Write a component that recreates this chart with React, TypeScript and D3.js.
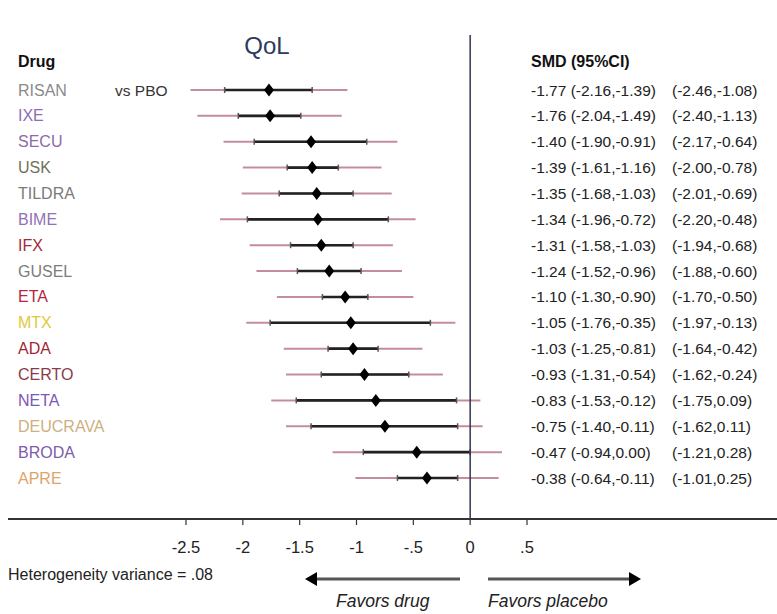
import React from "react";
import * as d3 from "d3";

const drugs = ["RISAN","IXE","SECU","USK","TILDRA","BIME","IFX","GUSEL","ETA","MTX","ADA","CERTO","NETA","DEUCRAVA","BRODA","APRE"];
const drugColors = ["#8a8a8a","#8f6db5","#8d6aaa","#6e7358","#7a7a7a","#9272b5","#a3283a","#7c7c7c","#b52540","#e2c93a","#a51f35","#8a3a4a","#7a58b3","#cdb080","#7c5caa","#e0a468"];
const smd = [-1.77,-1.76,-1.40,-1.39,-1.35,-1.34,-1.31,-1.24,-1.10,-1.05,-1.03,-0.93,-0.83,-0.75,-0.47,-0.38];
const ciLow = [-2.16,-2.04,-1.90,-1.61,-1.68,-1.96,-1.58,-1.52,-1.30,-1.76,-1.25,-1.31,-1.53,-1.40,-0.94,-0.64];
const ciHigh = [-1.39,-1.49,-0.91,-1.16,-1.03,-0.72,-1.03,-0.96,-0.90,-0.35,-0.81,-0.54,-0.12,-0.11,0.00,-0.11];
const piLow = [-2.46,-2.40,-2.17,-2.00,-2.01,-2.20,-1.94,-1.88,-1.70,-1.97,-1.64,-1.62,-1.75,-1.62,-1.21,-1.01];
const piHigh = [-1.08,-1.13,-0.64,-0.78,-0.69,-0.48,-0.68,-0.60,-0.50,-0.13,-0.42,-0.24,0.09,0.11,0.28,0.25];
const tickValues = [-2.5,-2,-1.5,-1,-0.5,0,0.5];
const tickLabels = ["-2.5","-2","-1.5","-1","-.5","0",".5"];

const fmt = (v: number) => v.toFixed(2);

export default function App() {
  const x = d3.scaleLinear().domain([-2.5, 0.5]).range([186, 527]);
  const y = d3.scalePoint<string>().domain(drugs).range([90, 478]);
  const font = "Liberation Sans, Arial, sans-serif";
  const axisY = 519;
  return (
    <svg width={777} height={614} style={{ position: "absolute", left: 0, top: 0, background: "#fff" }} fontFamily={font}>
      <rect width={777} height={614} fill="#fff" />
      <text x={267} y={54} fontSize={24} fill="#2c3a5e" textAnchor="middle">QoL</text>
      <text x={18} y={67} fontSize={16} fontWeight="bold" fill="#111">Drug</text>
      <text x={531} y={67} fontSize={16} fontWeight="bold" fill="#111">SMD (95%CI)</text>
      <text x={115} y={(y("RISAN") as number)} fontSize={15.5} fill="#333" dominantBaseline="central">vs PBO</text>
      {drugs.map((d, i) => {
        const yy = y(d) as number;
        return (
          <g key={d}>
            <text x={18} y={yy} fontSize={16} fill={drugColors[i]} dominantBaseline="central">{d}</text>
            <line x1={x(piLow[i])} x2={x(piHigh[i])} y1={yy} y2={yy} stroke="#c58d9c" strokeWidth={2} />
            <line x1={x(ciLow[i])} x2={x(ciHigh[i])} y1={yy} y2={yy} stroke="#222" strokeWidth={2.6} />
            <line x1={x(ciLow[i])} x2={x(ciLow[i])} y1={yy - 3} y2={yy + 3} stroke="#555" strokeWidth={1.5} />
            <line x1={x(ciHigh[i])} x2={x(ciHigh[i])} y1={yy - 3} y2={yy + 3} stroke="#555" strokeWidth={1.5} />
            <path d={`M${x(smd[i])},${yy - 6.5}L${x(smd[i]) + 5},${yy}L${x(smd[i])},${yy + 6.5}L${x(smd[i]) - 5},${yy}Z`} fill="#000" />
            <text x={531} y={yy} fontSize={15.5} fill="#222" dominantBaseline="central">{`${fmt(smd[i])} (${fmt(ciLow[i])},${fmt(ciHigh[i])})`}</text>
            <text x={672} y={yy} fontSize={15.5} fill="#222" dominantBaseline="central">{`(${fmt(piLow[i])},${fmt(piHigh[i])})`}</text>
          </g>
        );
      })}
      <line x1={x(0)} x2={x(0)} y1={35} y2={axisY} stroke="#2f3552" strokeWidth={1.5} />
      <line x1={8} x2={777} y1={axisY} y2={axisY} stroke="#333" strokeWidth={1.8} />
      {tickValues.map((t, i) => (
        <g key={t}>
          <line x1={x(t)} x2={x(t)} y1={axisY} y2={axisY + 6} stroke="#333" strokeWidth={1.2} />
          <text x={x(t)} y={axisY + 34} fontSize={16.5} fill="#222" textAnchor="middle">{tickLabels[i]}</text>
        </g>
      ))}
      <text x={8} y={580} fontSize={16} fill="#222">Heterogeneity variance = .08</text>
      <line x1={460} x2={315} y1={579} y2={579} stroke="#555" strokeWidth={3} />
      <path d="M305,579L317,572L317,586Z" fill="#000" />
      <line x1={488} x2={630} y1={579} y2={579} stroke="#555" strokeWidth={3} />
      <path d="M641,579L629,572L629,586Z" fill="#000" />
      <text x={336} y={607} fontSize={17.5} fontStyle="italic" fill="#222">Favors drug</text>
      <text x={488} y={607} fontSize={17.5} fontStyle="italic" fill="#222">Favors placebo</text>
    </svg>
  );
}
